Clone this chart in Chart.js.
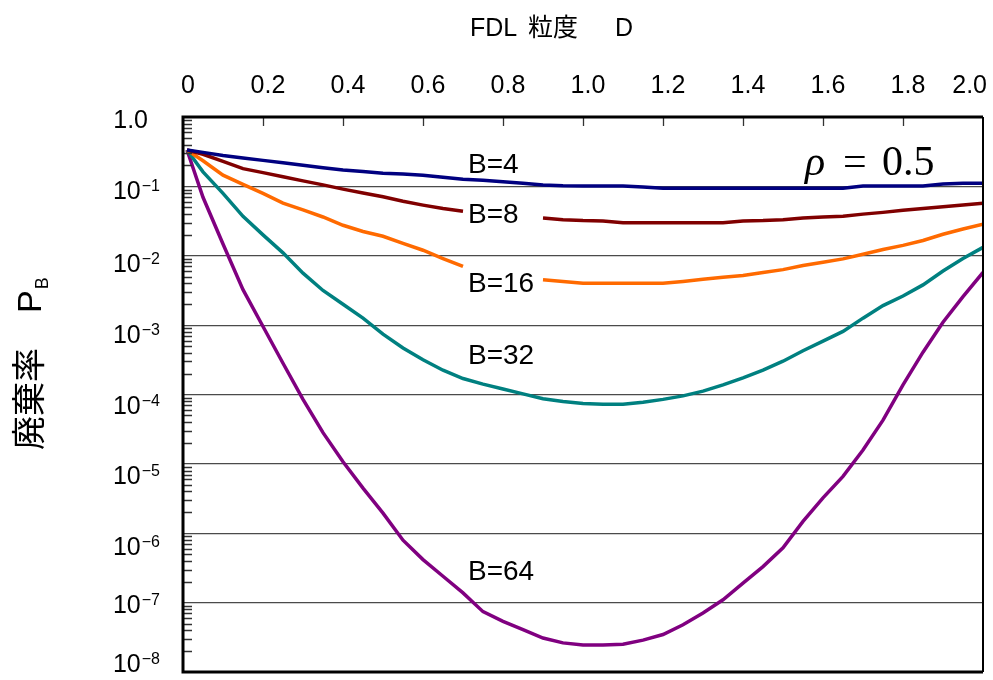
<!DOCTYPE html>
<html lang="ja">
<head>
<meta charset="UTF-8">
<title>FDL 粒度と廃棄率</title>
<script src="https://cdn.jsdelivr.net/npm/chart.js"></script>
<style>
  html, body { margin: 0; padding: 0; background: #fff; }
  #wrap { width: 993px; height: 680px; position: relative; }
</style>
</head>
<body>
<div id="wrap"><canvas id="pbChart"></canvas></div>
<script>
// FDL granularity D
const granularity = [0.01, 0.05, 0.10, 0.15, 0.20, 0.25, 0.30, 0.35, 0.40, 0.45, 0.50,
  0.55, 0.60, 0.65, 0.70, 0.75, 0.80, 0.85, 0.90, 0.95, 1.00,
  1.05, 1.10, 1.15, 1.20, 1.25, 1.30, 1.35, 1.40, 1.45, 1.50,
  1.55, 1.60, 1.65, 1.70, 1.75, 1.80, 1.85, 1.90, 1.95, 2.00];

// discard probability P_B for each buffer size B (rho = 0.5)
const pbB4 = [0.335, 0.309, 0.279, 0.257, 0.237, 0.219, 0.202, 0.186, 0.172, 0.164, 0.155,
  0.151, 0.145, 0.135, 0.127, 0.123, 0.117, 0.111, 0.105, 0.102, 0.101,
  0.101, 0.101, 0.0977, 0.0938, 0.0938, 0.0938, 0.0938, 0.0938, 0.0938, 0.0938,
  0.0938, 0.0938, 0.0938, 0.101, 0.101, 0.101, 0.101, 0.108, 0.111, 0.111];
const pbB8 = [0.335, 0.29, 0.229, 0.180, 0.158, 0.138, 0.120, 0.105, 0.0912, 0.0804, 0.0708,
  0.0610, 0.0537, 0.0479, 0.0437, null, null, null, 0.0351, 0.0331, 0.0321,
  0.0316, 0.0300, 0.0300, 0.0300, 0.0300, 0.0300, 0.0300, 0.0316, 0.0321, 0.0331,
  0.0351, 0.0363, 0.0372, 0.0398, 0.0422, 0.0452, 0.0479, 0.0507, 0.0537, 0.0570];
const pbB16 = [0.335, 0.234, 0.145, 0.107, 0.0794, 0.0575, 0.0457, 0.0362, 0.0275, 0.0224, 0.0191,
  0.0151, 0.0120, 0.00912, 0.00700, null, null, null, 0.00452, 0.00427, 0.00401,
  0.00401, 0.00401, 0.00401, 0.00401, 0.00427, 0.00457, 0.00490, 0.00519, 0.00575, 0.00631,
  0.00724, 0.00804, 0.00902, 0.0105, 0.0123, 0.0141, 0.0166, 0.0204, 0.0243, 0.0284];
const pbB32 = [0.335, 0.162, 0.0794, 0.037, 0.0200, 0.0110, 5.62e-3, 3.16e-3, 2.00e-3, 1.26e-3, 7.41e-4,
  4.68e-4, 3.16e-4, 2.24e-4, 1.70e-4, 1.41e-4, 1.20e-4, 1.02e-4, 8.71e-5, 7.94e-5, 7.41e-5,
  7.24e-5, 7.24e-5, 7.76e-5, 8.51e-5, 9.55e-5, 1.12e-4, 1.38e-4, 1.74e-4, 2.24e-4, 3.02e-4,
  4.27e-4, 5.89e-4, 8.13e-4, 1.26e-3, 1.91e-3, 2.63e-3, 3.80e-3, 6.03e-3, 9.12e-3, 0.0132];
const pbB64 = [0.335, 6.97e-2, 1.48e-2, 3.24e-3, 9.55e-4, 2.82e-4, 8.51e-5, 2.82e-5, 1.07e-5, 4.47e-6, 1.95e-6,
  7.94e-7, 4.17e-7, 2.40e-7, 1.38e-7, 7.41e-8, 5.37e-8, 4.07e-8, 3.09e-8, 2.63e-8, 2.45e-8,
  2.45e-8, 2.51e-8, 2.88e-8, 3.47e-8, 4.79e-8, 7.08e-8, 1.10e-7, 1.91e-7, 3.31e-7, 6.17e-7,
  1.48e-6, 3.24e-6, 6.61e-6, 1.58e-5, 4.27e-5, 1.38e-4, 4.07e-4, 1.10e-3, 2.57e-3, 5.75e-3];

const seriesNames = ['B=4', 'B=8', 'B=16', 'B=32', 'B=64'];

// axis ticks
const xTickValues = [0, 0.2, 0.4, 0.6, 0.8, 1.0, 1.2, 1.4, 1.6, 1.8, 2.0];
const xTickLabels = ['0', '0.2', '0.4', '0.6', '0.8', '1.0', '1.2', '1.4', '1.6', '1.8', '2.0'];
const yTickValues = [1, 1e-1, 1e-2, 1e-3, 1e-4, 1e-5, 1e-6, 1e-7, 1e-8];
const yTickBase = ['1.0', '10', '10', '10', '10', '10', '10', '10', '10'];
const yTickSup = ['', '\u22121', '\u22122', '\u22123', '\u22124', '\u22125', '\u22126', '\u22127', '\u22128'];

const lineColors = ['#000080', '#800000', '#ff6a00', '#008080', '#800080'];
const allSeries = [pbB4, pbB8, pbB16, pbB32, pbB64];

// the tick labels in the original drift a little off their grid lines
const yLabelShift = [2, 4, 7, 9, 10, 11, 13, 1, -9];

// where the curve labels sit, in data coordinates
const notes = [
  { text: 'B=4',  x: 0.7125, y: 0.203 },
  { text: 'B=8',  x: 0.7125, y: 0.0387 },
  { text: 'B=16', x: 0.7125, y: 0.00392 },
  { text: 'B=32', x: 0.7125, y: 3.6e-4 },
  { text: 'B=64', x: 0.7125, y: 2.78e-7 }
];

const SANS = '"Liberation Sans", "Noto Sans CJK JP", sans-serif';

const decor = {
  id: 'decor',
  afterDatasetsDraw(chart) {
    const { ctx, chartArea: a, scales: { x, y } } = chart;
    ctx.save();

    // minor ticks on the left axis, pointing inward
    ctx.strokeStyle = '#333';
    ctx.lineWidth = 1.3;
    ctx.beginPath();
    for (let e = -8; e < 0; e++) {
      for (let k = 2; k <= 9; k++) {
        const py = Math.round(y.getPixelForValue(k * Math.pow(10, e))) + 0.5;
        ctx.moveTo(a.left, py);
        ctx.lineTo(a.left + 9, py);
      }
    }
    // x ticks at the top, pointing down
    xTickValues.forEach(v => {
      if (v === 0 || v === 2) return;
      const px = Math.round(x.getPixelForValue(v)) + 0.5;
      ctx.moveTo(px, a.top);
      ctx.lineTo(px, a.top + 9);
    });
    ctx.stroke();

    // frame
    ctx.strokeStyle = '#000';
    ctx.lineWidth = 3;
    ctx.beginPath();
    ctx.moveTo(a.right, a.top);
    ctx.lineTo(a.left, a.top);
    ctx.lineTo(a.left, a.bottom);
    ctx.lineTo(a.right, a.bottom);
    ctx.stroke();
    ctx.lineWidth = 2;
    ctx.beginPath();
    ctx.moveTo(a.right, a.top);
    ctx.lineTo(a.right, a.bottom);
    ctx.stroke();

    ctx.fillStyle = '#000';

    // x tick labels on top
    ctx.font = '25px ' + SANS;
    ctx.textAlign = 'center';
    ctx.textBaseline = 'middle';
    xTickValues.forEach((v, i) => {
      const w = ctx.measureText(xTickLabels[i]).width;
      let cx = x.getPixelForValue(v) + 5;
      cx = Math.min(cx, chart.width - w / 2 - 6);
      ctx.fillText(xTickLabels[i], cx, 86);
    });

    // y tick labels with superscript exponents
    ctx.textBaseline = 'alphabetic';
    yTickValues.forEach((v, i) => {
      const py = y.getPixelForValue(v) + yLabelShift[i];
      if (!yTickSup[i]) {
        ctx.font = '25px ' + SANS;
        ctx.textAlign = 'right';
        ctx.fillText(yTickBase[i], 148, py + 9);
        return;
      }
      ctx.font = '16px ' + SANS;
      const sw = ctx.measureText(yTickSup[i]).width;
      ctx.textAlign = 'left';
      ctx.fillText(yTickSup[i], 160 - sw, py + 1);
      ctx.font = '25px ' + SANS;
      ctx.textAlign = 'right';
      ctx.fillText(yTickBase[i], 160 - sw - 1, py + 9);
    });

    // curve labels
    ctx.font = '28px ' + SANS;
    ctx.textAlign = 'left';
    ctx.textBaseline = 'middle';
    notes.forEach(n => {
      ctx.fillText(n.text, x.getPixelForValue(n.x), y.getPixelForValue(n.y));
    });

    // rho = 0.5
    const rx = x.getPixelForValue(1.555);
    const ry = y.getPixelForValue(0.146);
    ctx.textBaseline = 'alphabetic';
    ctx.font = 'italic 42px "Liberation Serif", serif';
    ctx.fillText('\u03c1', rx, ry);
    ctx.font = '42px "Liberation Serif", serif';
    ctx.fillText('=', rx + 38, ry);
    ctx.fillText('0.5', rx + 77, ry);

    // top title, drawn word by word to keep the wide spacing
    ctx.font = '25px ' + SANS;
    ctx.textBaseline = 'middle';
    ctx.fillText('FDL', 470, 29);
    ctx.fillText('粒度', 528, 29);
    ctx.fillText('D', 615, 29);

    // left title
    ctx.translate(41, 450);
    ctx.rotate(-Math.PI / 2);
    ctx.textAlign = 'left';
    ctx.textBaseline = 'alphabetic';
    ctx.font = '34px ' + SANS;
    const head = '廃棄率';
    const hw = ctx.measureText(head).width;
    ctx.fillText(head, 0, 0);
    const pX = hw + 35;
    ctx.fillText('P', pX, 0);
    const pw = ctx.measureText('P').width;
    ctx.font = '18px ' + SANS;
    ctx.fillText('B', pX + pw + 1, 7);

    ctx.restore();
  }
};

const ctx = document.getElementById('pbChart').getContext('2d');
new Chart(ctx, {
  type: 'line',
  data: {
    datasets: allSeries.map((vals, i) => ({
      label: seriesNames[i],
      data: granularity.map((g, j) => ({ x: g, y: vals[j] })),
      borderColor: lineColors[i],
      backgroundColor: lineColors[i],
      borderWidth: 3.5,
      pointRadius: 0,
      tension: 0,
      spanGaps: false
    }))
  },
  options: {
    responsive: true,
    maintainAspectRatio: false,
    animation: false,
    layout: { padding: { left: 0, top: 0, right: 10, bottom: 8 } },
    plugins: {
      legend: { display: false },
      tooltip: { enabled: false }
    },
    scales: {
      x: {
        type: 'linear',
        position: 'top',
        min: 0,
        max: 2,
        ticks: { display: false },
        grid: { display: false, drawTicks: false },
        border: { display: false },
        afterFit: s => { s.height = 117; }
      },
      y: {
        type: 'logarithmic',
        min: 1e-8,
        max: 1,
        ticks: { display: false },
        grid: { color: '#4a4a4a', lineWidth: 1.2, drawTicks: false },
        border: { display: false },
        afterBuildTicks: s => { s.ticks = yTickValues.map(v => ({ value: v })); },
        afterFit: s => { s.width = 183; }
      }
    }
  },
  plugins: [decor]
});
</script>
</body>
</html>
